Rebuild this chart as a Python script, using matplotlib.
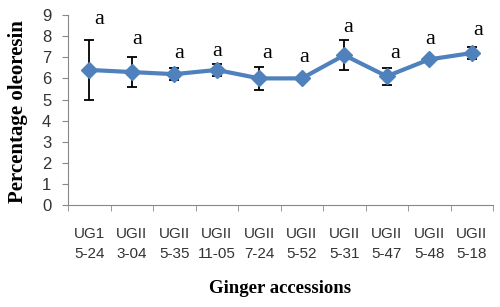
import numpy as np
import matplotlib.pyplot as plt

# ginger accessions and oleoresin content (%)
accessions = ['UG1\n5-24', 'UGII\n3-04', 'UGII\n5-35', 'UGII\n11-05', 'UGII\n7-24',
              'UGII\n5-52', 'UGII\n5-31', 'UGII\n5-47', 'UGII\n5-48', 'UGII\n5-18']
oleoresin = [6.4, 6.3, 6.2, 6.4, 6.0, 6.0, 7.1, 6.1, 6.9, 7.2]
errors = [1.4, 0.7, 0.3, 0.3, 0.55, 0.0, 0.7, 0.4, 0.0, 0.3]
letters = ['a'] * 10
# where the significance letters sit (data units)
letter_y = [8.77, 7.82, 7.2, 7.25, 7.2, 7.0, 8.39, 7.2, 7.82, 8.29]
letter_dx = [0.23, 0.12, 0.12, 0.0, 0.19, 0.05, 0.09, 0.19, 0.02, 0.14]

x = np.arange(len(accessions))
fig = plt.figure(figsize=(5, 3.07), dpi=100)
ax = fig.add_axes([0.136, 0.332, 0.85, 0.619])

ax.errorbar(x, oleoresin, yerr=errors, fmt='none', ecolor='black',
            elinewidth=1.3, capsize=3.5, capthick=1.3, zorder=2)
ax.plot(x, oleoresin, color='#4F81BD', linewidth=3, marker='D',
        markersize=8, zorder=3)

for xi, dx, yi, s in zip(x, letter_dx, letter_y, letters):
    ax.text(xi + dx, yi, s, ha='center', va='center', fontsize=16,
            family='Liberation Serif')

ax.set_xlim(-0.5, len(accessions) - 0.5)
ax.set_ylim(0, 9)
ax.set_yticks(range(0, 10))
ax.set_xticks(x)
ax.set_xticklabels(accessions, family='Liberation Sans', fontsize=11,
                   color='#333333', linespacing=1.55)
ax.set_xticks(np.arange(-0.5, len(accessions)), minor=True)
ax.tick_params(axis='x', which='major', length=0, pad=16)
ax.tick_params(axis='x', which='minor', length=4, color='#888888')
ax.tick_params(axis='y', length=4, color='#888888', labelsize=12,
               labelcolor='#333333', pad=8)
for lab in ax.get_yticklabels():
    lab.set_family('Liberation Sans')

for side in ['top', 'right']:
    ax.spines[side].set_visible(False)
for side in ['left', 'bottom']:
    ax.spines[side].set_color('#888888')

ax.set_xlabel('Ginger accessions', family='Liberation Serif',
              fontweight='bold', fontsize=13.5, va='center')
ax.set_ylabel('Percentage oleoresin', family='Liberation Serif',
              fontweight='bold', fontsize=15, va='center')
ax.xaxis.set_label_coords(0.5, -0.437)
ax.yaxis.set_label_coords(-0.118, 0.49)

fig.savefig('out.png', dpi=100)
